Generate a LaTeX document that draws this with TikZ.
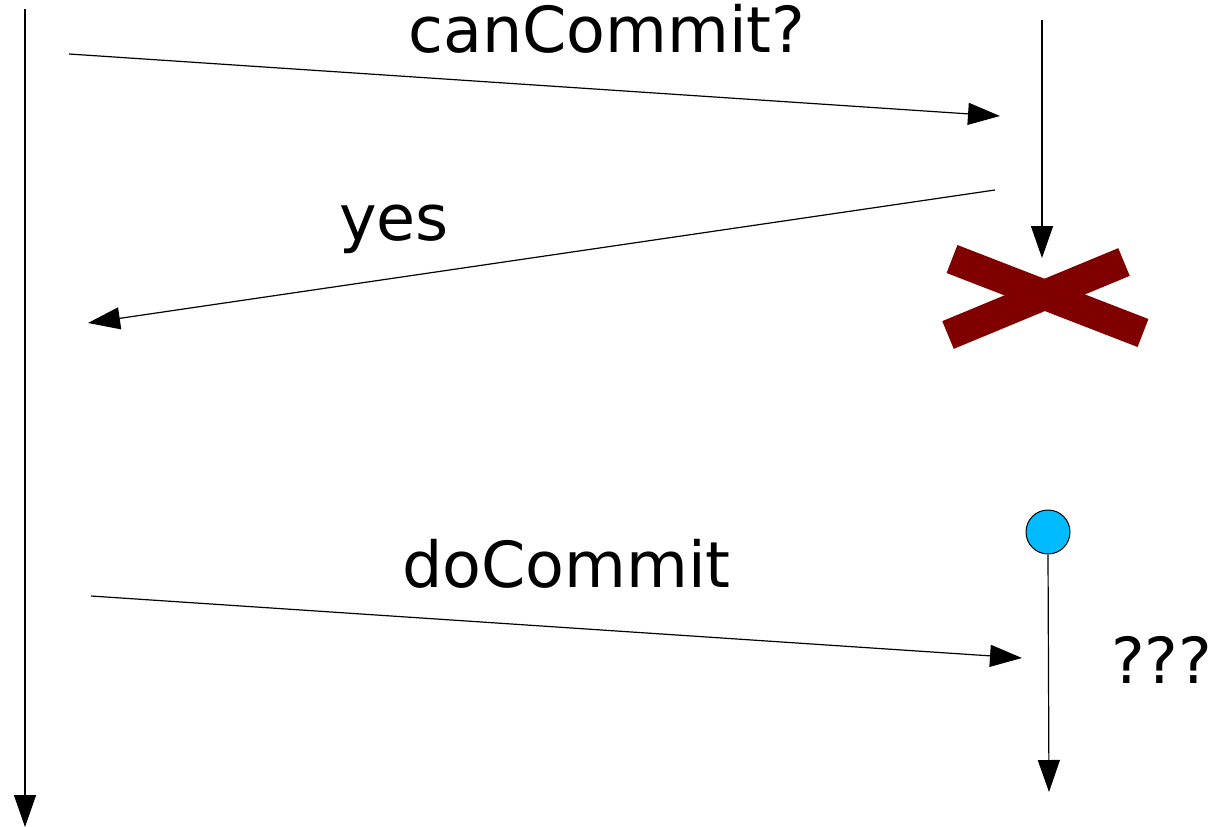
\documentclass[tikz,border=0pt]{standalone}
\usepackage{fontspec}
\setmainfont{DejaVu Sans}
\usetikzlibrary{arrows.meta}
\definecolor{crossred}{HTML}{800000}
\definecolor{stateblue}{HTML}{00BBFF}
\begin{document}
\begin{tikzpicture}[x=1pt,y=-1pt,
  msg/.style={line width=1.2pt,-{Triangle[length=32pt,width=22pt]}},
  lifeline/.style={line width=1.5pt,-{Triangle[length=32pt,width=22pt]}},
  label/.style={anchor=base west,inner sep=0pt,font=\fontsize{63.5}{70}\selectfont},
  bar/.style={line width=30pt,crossred}]
  \useasboundingbox (0,0) rectangle (1218,827);

  % lifelines
  \coordinate (cTop) at (25,9);
  \coordinate (cEnd) at (25,827);
  \coordinate (pTop) at (1042,20);
  \coordinate (pEnd) at (1042,258);
  \draw[lifeline] (cTop) -- (cEnd);
  \draw[lifeline] (pTop) -- (pEnd);

  % crash mark
  \coordinate (xa1) at (952,259);
  \coordinate (xa2) at (1143,333);
  \coordinate (xb1) at (948,335);
  \coordinate (xb2) at (1124,262);
  \draw[bar] (xa1) -- (xa2);
  \draw[bar] (xb1) -- (xb2);

  % recovered participant
  \node (rec) [circle,draw=black,line width=1pt,fill=stateblue,
    minimum size=44pt,inner sep=0pt] at (1048,532) {};
  \coordinate (rEnd) at (1049,792);
  \draw[lifeline,line width=1.2pt] (rec.south) -- (rEnd);

  % messages
  \coordinate (m1s) at (69,54);
  \coordinate (m1e) at (1000,116);
  \coordinate (m2s) at (995,190);
  \coordinate (m2e) at (88,323);
  \coordinate (m3s) at (91,596);
  \coordinate (m3e) at (1022,658);
  \draw[msg] (m1s) -- (m1e);
  \draw[msg] (m2s) -- (m2e);
  \draw[msg] (m3s) -- (m3e);

  % labels
  \node (l1) [label] at (408,52) {canCommit?};
  \node (l2) [label] at (339,240) {yes};
  \node (l3) [label] at (402,587) {doCommit};
  \node (l4) [label] at (1111,683) {???};
\end{tikzpicture}
\end{document}
